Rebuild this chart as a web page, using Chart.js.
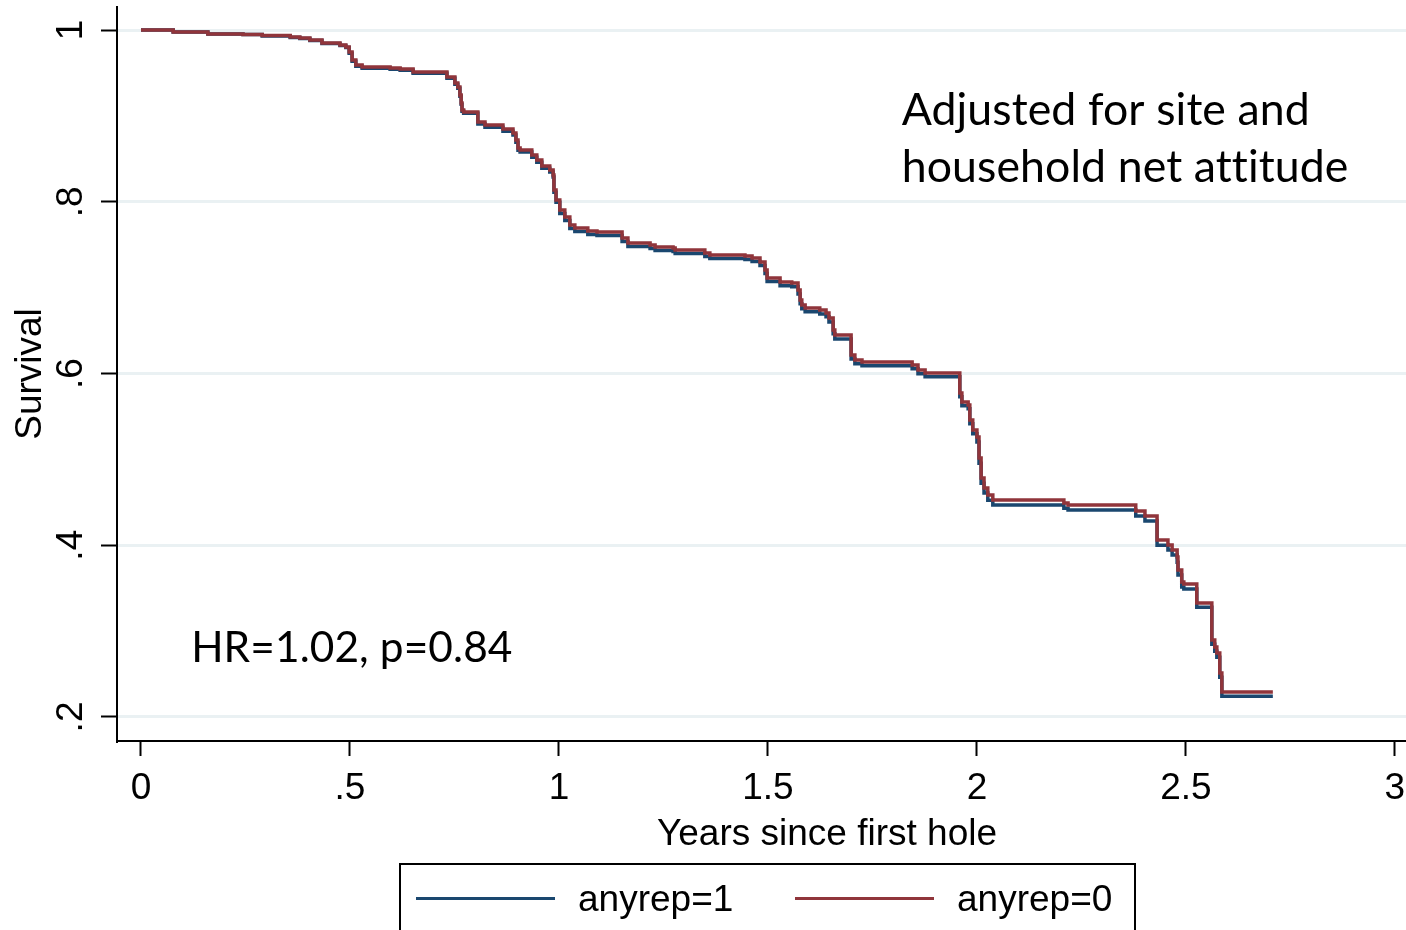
<!DOCTYPE html>
<html>
<head>
<meta charset="utf-8">
<title>Survival by anyrep</title>
<script src="https://cdn.jsdelivr.net/npm/chart.js@4/dist/chart.umd.min.js"></script>
<style>
  html, body { margin: 0; padding: 0; background: #fff; width: 1406px; height: 930px; overflow: hidden; }
  #wrap { position: absolute; left: 0; top: 0; width: 1537px; height: 930px; }
  #legend {
    position: absolute; left: 399px; top: 863px; width: 733px; height: 90px;
    border: 2px solid #000; box-sizing: content-box;
    font-family: "Liberation Sans", Arial, sans-serif; font-size: 37px; color: #000;
  }
  #legend .item { position: absolute; top: 0; height: 70px; }
  #legend .swatch { position: absolute; top: 32px; width: 139px; height: 3px; }
  #legend .txt { position: absolute; top: 12px; left: 162px; white-space: nowrap; line-height: 44px; }
</style>
</head>
<body>
<div id="wrap"><canvas id="km" width="1537" height="930"></canvas></div>
<div id="legend"></div>
<script>
// event times (years since first hole) and survival after each event
const years = [
  0.000, 0.077, 0.160, 0.244, 0.290, 0.357, 0.380, 0.404, 0.433, 0.476,
  0.490, 0.498, 0.505, 0.514, 0.529, 0.596, 0.620, 0.651, 0.732, 0.751,
  0.758, 0.763, 0.766, 0.768, 0.772, 0.806, 0.823, 0.866, 0.890, 0.897,
  0.902, 0.907, 0.935, 0.947, 0.959, 0.978, 0.986, 0.988, 0.993, 1.002,
  1.014, 1.026, 1.038, 1.069, 1.091, 1.151, 1.165, 1.218, 1.230, 1.273,
  1.278, 1.349, 1.361, 1.445, 1.462, 1.481, 1.493, 1.498, 1.529, 1.557,
  1.572, 1.577, 1.581, 1.589, 1.624, 1.639, 1.646, 1.656, 1.660, 1.699,
  1.708, 1.725, 1.845, 1.859, 1.876, 1.959, 1.964, 1.979, 1.983, 1.990,
  2.000, 2.005, 2.010, 2.017, 2.026, 2.038, 2.208, 2.218, 2.380, 2.402,
  2.431, 2.457, 2.467, 2.479, 2.481, 2.490, 2.495, 2.526, 2.562, 2.569,
  2.574, 2.581, 2.586, 2.708
];

const survAnyrep1 = [
  1.0000, 0.9977, 0.9953, 0.9948, 0.9930, 0.9912, 0.9901, 0.9878, 0.9843, 0.9819,
  0.9796, 0.9729, 0.9636, 0.9577, 0.9554, 0.9542, 0.9531, 0.9496, 0.9438, 0.9368,
  0.9321, 0.9228, 0.9135, 0.9053, 0.9030, 0.8904, 0.8869, 0.8822, 0.8776, 0.8694,
  0.8601, 0.8578, 0.8519, 0.8461, 0.8391, 0.8345, 0.8287, 0.8112, 0.7995, 0.7864,
  0.7782, 0.7689, 0.7654, 0.7619, 0.7608, 0.7538, 0.7480, 0.7456, 0.7433, 0.7421,
  0.7398, 0.7363, 0.7340, 0.7328, 0.7305, 0.7258, 0.7165, 0.7072, 0.7021, 0.7009,
  0.6927, 0.6811, 0.6753, 0.6718, 0.6694, 0.6660, 0.6601, 0.6462, 0.6403, 0.6170,
  0.6112, 0.6089, 0.6054, 0.5996, 0.5961, 0.5728, 0.5623, 0.5588, 0.5414, 0.5297,
  0.5201, 0.4956, 0.4723, 0.4607, 0.4525, 0.4467, 0.4432, 0.4409, 0.4339, 0.4281,
  0.4001, 0.3943, 0.3885, 0.3803, 0.3652, 0.3512, 0.3489, 0.3277, 0.2847, 0.2765,
  0.2695, 0.2462, 0.2241, 0.2241
];

const survAnyrep0 = [
  1.0000, 0.9977, 0.9953, 0.9948, 0.9936, 0.9918, 0.9907, 0.9884, 0.9849, 0.9825,
  0.9802, 0.9744, 0.9651, 0.9592, 0.9569, 0.9557, 0.9546, 0.9511, 0.9453, 0.9383,
  0.9336, 0.9243, 0.9150, 0.9068, 0.9045, 0.8929, 0.8894, 0.8847, 0.8801, 0.8719,
  0.8626, 0.8603, 0.8544, 0.8486, 0.8416, 0.8370, 0.8312, 0.8137, 0.8020, 0.7904,
  0.7822, 0.7729, 0.7694, 0.7659, 0.7648, 0.7578, 0.7520, 0.7496, 0.7473, 0.7461,
  0.7438, 0.7403, 0.7380, 0.7368, 0.7345, 0.7298, 0.7205, 0.7112, 0.7066, 0.7054,
  0.6972, 0.6856, 0.6798, 0.6763, 0.6739, 0.6705, 0.6646, 0.6507, 0.6448, 0.6215,
  0.6157, 0.6134, 0.6099, 0.6041, 0.6006, 0.5773, 0.5668, 0.5633, 0.5459, 0.5342,
  0.5261, 0.5016, 0.4783, 0.4667, 0.4585, 0.4527, 0.4492, 0.4469, 0.4399, 0.4341,
  0.4061, 0.4003, 0.3945, 0.3863, 0.3712, 0.3572, 0.3549, 0.3327, 0.2897, 0.2815,
  0.2745, 0.2512, 0.2291, 0.2291
];

const seriesLabels = ["anyrep=1", "anyrep=0"];
const seriesColors = ["#1A476F", "#90353B"];

const yTicks = [0.2, 0.4, 0.6, 0.8, 1];
const xTicks = [0, 0.5, 1, 1.5, 2, 2.5, 3];

const notes = [
  { x: 1.82, y: 0.889, size: 44.6, lines: ["Adjusted for site and", "household net attitude"] },
  { x: 0.12, y: 0.264, size: 42.4, lines: ["HR=1.02, p=0.84"] }
];

const axisFont = "'Liberation Sans', Arial, sans-serif";

function fmt(v) {
  const r = Math.round(v * 10) / 10;
  return r === 0 ? "0" : String(r).replace(/^0\./, ".");
}

function pts(ys) {
  return years.map((t, i) => ({ x: t, y: ys[i] }));
}

// text annotations placed in data coordinates
const notesPlugin = {
  id: "notes",
  afterDatasetsDraw(chart) {
    const { ctx, scales } = chart;
    ctx.save();
    ctx.fillStyle = "#000";
    ctx.textBaseline = "alphabetic";
    ctx.textAlign = "left";
    ctx.letterSpacing = "0.1px"; // keeps "ti" from turning into a ligature
    notes.forEach(n => {
      ctx.font = n.size + "px Lato";
      const px = scales.x.getPixelForValue(n.x);
      const py = scales.y.getPixelForValue(n.y);
      n.lines.forEach((l, i) => ctx.fillText(l, px, py + i * 57));
    });
    ctx.restore();
  }
};

const chart = new Chart("km", {
  type: "line",
  data: {
    datasets: [
      {
        label: seriesLabels[0],
        data: pts(survAnyrep1),
        borderColor: seriesColors[0],
        backgroundColor: seriesColors[0],
        borderWidth: 3.5,
        pointRadius: 0,
        stepped: true,
        order: 2
      },
      {
        label: seriesLabels[1],
        data: pts(survAnyrep0),
        borderColor: seriesColors[1],
        backgroundColor: seriesColors[1],
        borderWidth: 3.5,
        pointRadius: 0,
        stepped: true,
        order: 1
      }
    ]
  },
  options: {
    responsive: false,
    animation: false,
    layout: { padding: { top: 7, left: 0, right: 0, bottom: 0 } },
    plugins: { legend: { display: false }, tooltip: { enabled: false } },
    scales: {
      x: {
        type: "linear",
        min: -0.0574,
        max: 3.34,
        afterFit: s => { s.height = 189; s.paddingLeft = 0; s.paddingRight = 0; },
        afterBuildTicks: s => { s.ticks = xTicks.map(v => ({ value: v })); },
        border: { color: "#000", width: 2 },
        grid: { drawOnChartArea: false, tickColor: "#000", tickWidth: 2, tickLength: 15 },
        ticks: {
          maxRotation: 0, autoSkip: false, padding: 11, color: "#000",
          font: { family: axisFont, size: 37 },
          callback: v => fmt(v)
        },
        title: {
          display: true, text: "Years since first hole", color: "#000",
          font: { family: axisFont, size: 37, lineHeight: 1 },
          padding: { top: 0, bottom: 77 }
        }
      },
      y: {
        min: 0.172,
        max: 1.0268,
        afterFit: s => { s.width = 117; s.paddingTop = 0; s.paddingBottom = 0; },
        afterBuildTicks: s => { s.ticks = yTicks.map(v => ({ value: v })); },
        border: { color: "#000", width: 2 },
        grid: { color: "#EAF1F3", lineWidth: 3, tickColor: "#000", tickWidth: 2, tickLength: 16 },
        ticks: {
          minRotation: 90, maxRotation: 90, crossAlign: "center", padding: 14, color: "#000",
          font: { family: axisFont, size: 37 },
          callback: v => fmt(v)
        },
        title: {
          display: true, text: "Survival", color: "#000",
          font: { family: axisFont, size: 37, lineHeight: 1 },
          padding: { top: 12, bottom: 0 }
        }
      }
    }
  },
  plugins: [notesPlugin]
});

// boxed legend under the plot, built from the datasets
const legendEl = document.getElementById("legend");
const legendOffsets = [15, 394];
chart.data.datasets.forEach((ds, i) => {
  const item = document.createElement("div");
  item.className = "item";
  item.style.left = legendOffsets[i] + "px";
  const sw = document.createElement("div");
  sw.className = "swatch";
  sw.style.background = ds.borderColor;
  const tx = document.createElement("div");
  tx.className = "txt";
  tx.textContent = ds.label;
  item.appendChild(sw);
  item.appendChild(tx);
  legendEl.appendChild(item);
});
</script>
</body>
</html>
